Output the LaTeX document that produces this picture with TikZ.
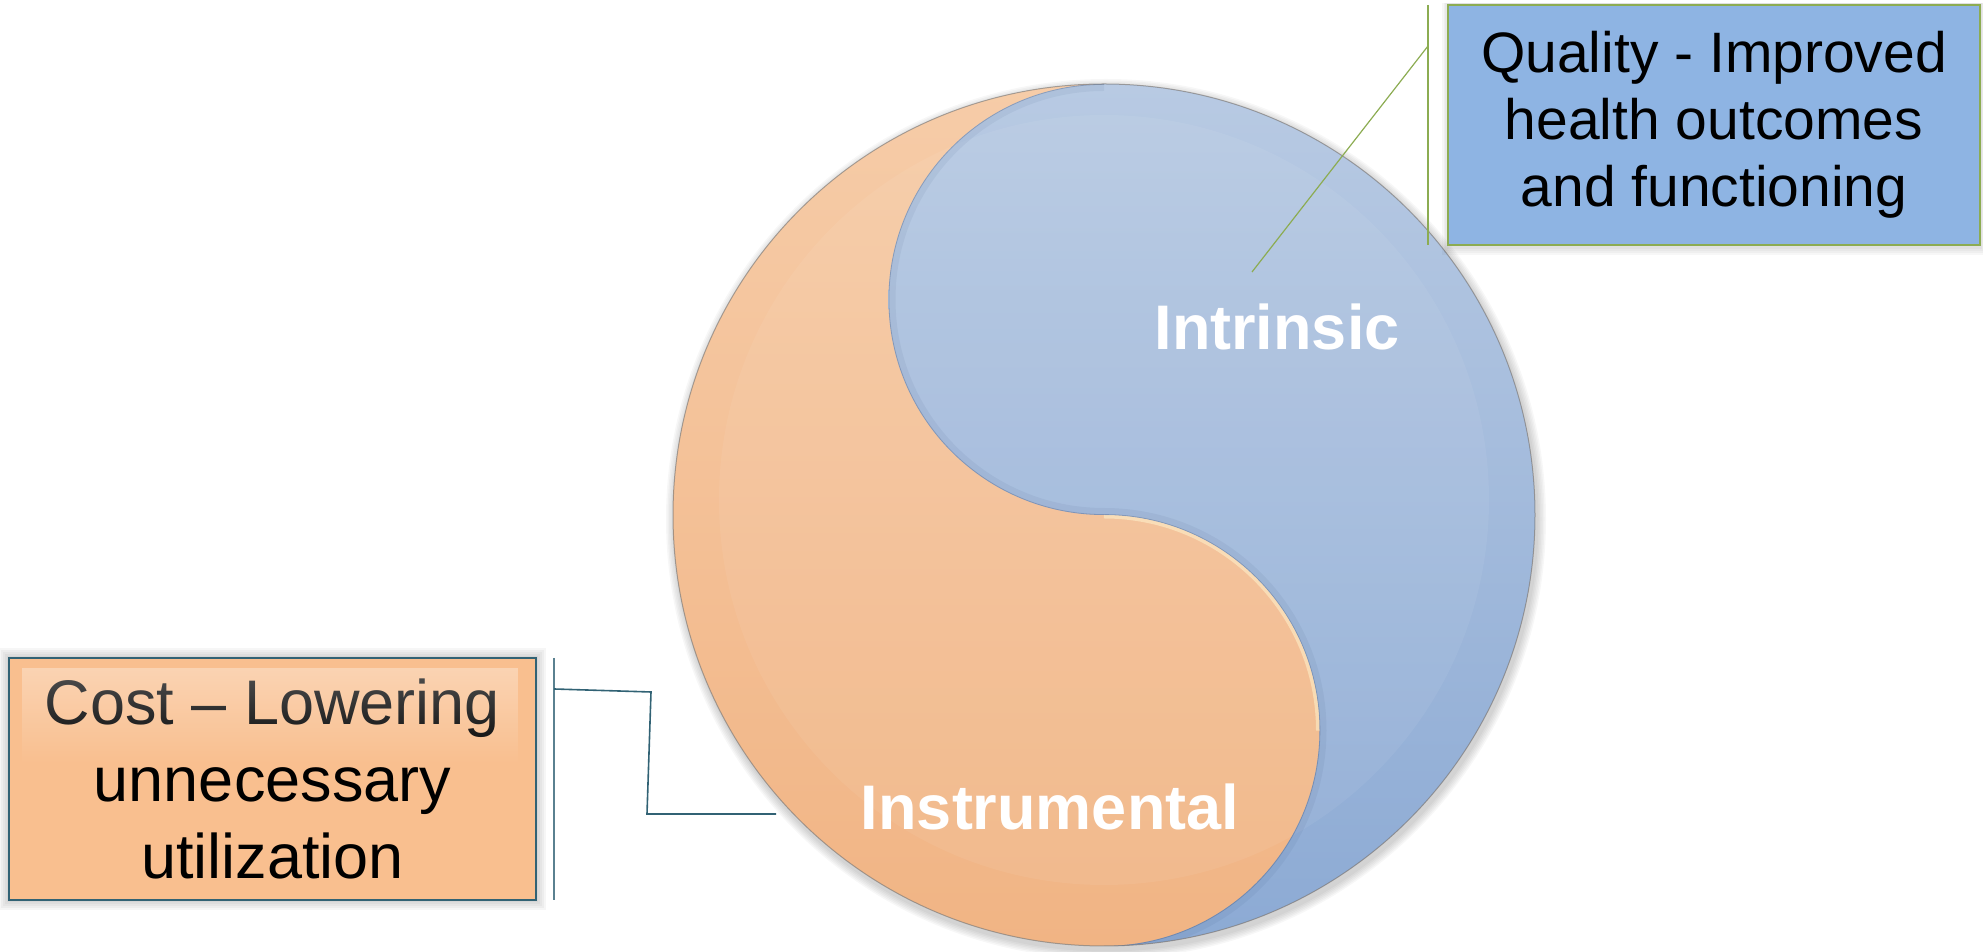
\documentclass[tikz,border=0pt]{standalone}
\usepackage{fontspec}
\setmainfont{Liberation Sans}
\usetikzlibrary{fadings}

\definecolor{costfill}{RGB}{249,191,143}
\definecolor{costline}{RGB}{49,98,116}
\definecolor{qualfill}{RGB}{142,180,227}
\definecolor{qualline}{RGB}{140,172,82}
\definecolor{orTop}{RGB}{246,204,168}
\definecolor{orBot}{RGB}{241,180,132}
\definecolor{blTop}{RGB}{184,202,227}
\definecolor{blBot}{RGB}{140,170,212}
\definecolor{creamhl}{RGB}{255,247,210}
\definecolor{seamshadow}{RGB}{55,75,115}

\tikzfading[name=glossfade, top color=transparent!0, bottom color=transparent!100]

\begin{document}
\begin{tikzpicture}[x=0.5pt, y=0.5pt,
  qbox/.style={draw=qualline, line width=0.6pt, fill=qualfill, align=center,
    minimum width=266pt, minimum height=120pt, inner sep=0pt,
    font=\fontsize{28.5}{33.5}\selectfont},
  cbox/.style={draw=costline, line width=0.6pt, fill=costfill, align=center,
    minimum width=263.5pt, minimum height=121pt, inner sep=0pt,
    font=\fontsize{31.5}{38.5}\selectfont},
  qconn/.style={draw=qualline, line width=0.6pt},
  cconn/.style={draw=costline, line width=0.8pt},
  lbl/.style={text=white, font=\bfseries\fontsize{31.5}{36}\selectfont, inner sep=0pt}]

\useasboundingbox (0,0) rectangle (1983,952);

\coordinate (O) at (1104,437);

% soft shadow around the disk
\foreach \k in {1,...,6}
  \fill[black, opacity=0.03] (1106,433) circle[radius={431+1.5*\k}];

% orange half (whole disk first)
\shade[top color=orTop, bottom color=orBot] (O) circle[radius=431];

% blue half: right semicircle plus upper lobe minus lower lobe
\shade[top color=blTop, bottom color=blBot]
  (1104,868) arc[start angle=90, end angle=-90, radius=431]
             arc[start angle=-90, end angle=90, radius=215.5]
             arc[start angle=-90, end angle=-270, radius=215.5] -- cycle;

% bevel: lighter inner disk
\begin{scope}
  \clip (O) circle[radius=431];
  \fill[white, opacity=0.06] (1104,452) circle[radius=385];
\end{scope}

% shadow along the seam on the blue side
\begin{scope}
  \clip (1104,868) arc[start angle=90, end angle=-90, radius=431]
             arc[start angle=-90, end angle=90, radius=215.5]
             arc[start angle=-90, end angle=-270, radius=215.5] -- cycle;
  \draw[seamshadow, opacity=0.07, line width=7pt]
    (1104,6) arc[start angle=-90, end angle=90, radius=215.5]
             arc[start angle=-90, end angle=-270, radius=215.5];
  \draw[seamshadow, opacity=0.3, line width=0.8pt]
    (1104,6) arc[start angle=-90, end angle=90, radius=215.5]
             arc[start angle=-90, end angle=-270, radius=215.5];
\end{scope}

% cream highlight on the upper edge of the lower lobe
\begin{scope}
  \clip (1104,868) arc[start angle=90, end angle=270, radius=431]
             arc[start angle=-90, end angle=90, radius=215.5]
             arc[start angle=-90, end angle=-270, radius=215.5] -- cycle;
  \draw[creamhl, opacity=0.5, line width=3.5pt]
    (1319.5,221.5) arc[start angle=0, end angle=90, radius=215.5];
\end{scope}

% disk outline
\draw[black!55, opacity=0.6, line width=0.5pt] (O) circle[radius=431];

% labels inside the disk
\node[lbl, anchor=base] (intr) at (1277,602) {Intrinsic};
\node[lbl, anchor=base] (instr) at (1050,122) {Instrumental};

% quality box with its bracket and leader line
\foreach \k in {1,...,4}
  \fill[black, opacity=0.03] ({1448-1.5*\k},{705-2*\k}) rectangle ({1980+1.5*\k},{949});
\node[qbox] (qual) at (1714,827) {Quality - Improved\\health outcomes\\and functioning};
\coordinate (qbT) at (1428,947);
\coordinate (qbB) at (1428,707);
\coordinate (qj) at (1428,906);
\coordinate (qtip) at (1252,680);
\draw[qconn] (qbT) -- (qbB);
\draw[qconn] (qj) -- (qtip);

% cost box with its bracket and leader line
\foreach \k in {1,...,5}
  \fill[black, opacity=0.035] ({9-2*\k},{52-2*\k}) rectangle ({536+2*\k},{294+2*\k});
\node[cbox] (cost) at (272.5,173) {Cost – Lowering\\unnecessary\\utilization};
\fill[white, fill opacity=0.32, path fading=glossfade] (22,188) rectangle (518,284);
\coordinate (cbT) at (554,294);
\coordinate (cbB) at (554,52);
\coordinate (cj) at (554,263);
\coordinate (ck1) at (651,260);
\coordinate (ck2) at (647,138);
\coordinate (ctip) at (776,138);
\draw[cconn, opacity=0.8] (cbT) -- (cbB);
\draw[cconn] (cj) -- (ck1) -- (ck2) -- (ctip);

\end{tikzpicture}
\end{document}
